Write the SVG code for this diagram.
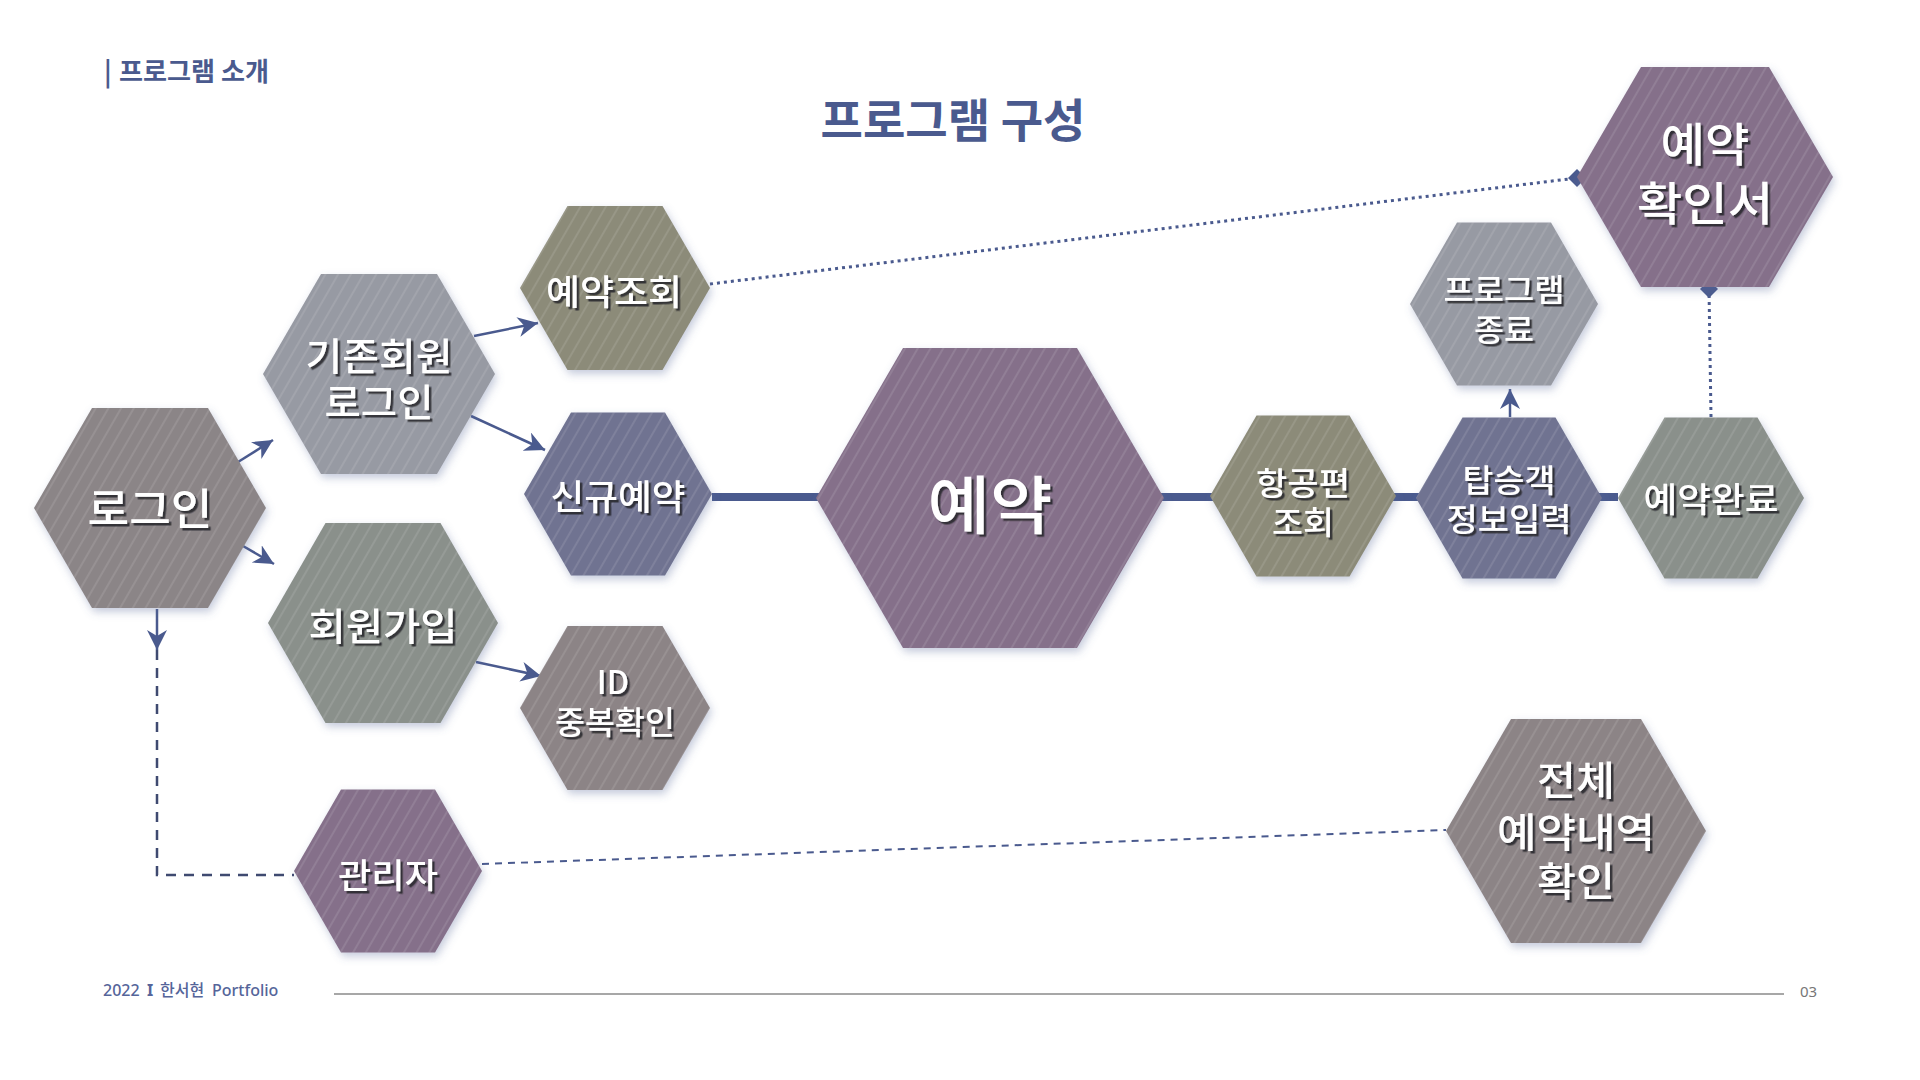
<svg xmlns="http://www.w3.org/2000/svg" width="1920" height="1080" viewBox="0 0 1920 1080">
<defs>
<style>
.hex{filter:url(#hexShadow);}
.str{fill:url(#stripes);}
.lbl{font-family:"Noto Sans CJK KR","Noto Sans",sans-serif;font-weight:500;fill:#ffffff;text-anchor:middle;dominant-baseline:central;filter:url(#txtShadow);}
.arrow{stroke:#4a5a8e;stroke-width:2.5;fill:none;marker-end:url(#arr);}
.dash{stroke:#3f4a70;stroke-width:2.5;fill:none;stroke-dasharray:10 8;}
.dash2{stroke:#4a5a8e;stroke-width:2;fill:none;stroke-dasharray:7 6;}
.dot{stroke:#4a5a8e;stroke-width:3;fill:none;stroke-dasharray:3 4;}
.foot{font-family:"Noto Sans","Noto Sans CJK KR",sans-serif;font-weight:500;font-size:16px;fill:#55659a;}
</style>
<pattern id="stripes" patternUnits="userSpaceOnUse" width="11" height="11" patternTransform="rotate(30)">
<line x1="1" y1="0" x2="1" y2="11" stroke="#ffffff" stroke-opacity="0.2" stroke-width="1"/>
</pattern>
<filter id="hexShadow" x="-20%" y="-20%" width="140%" height="140%">
<feDropShadow dx="2" dy="4" stdDeviation="4" flood-color="#5a6a9a" flood-opacity="0.35"/>
</filter>
<filter id="txtShadow" x="-20%" y="-20%" width="140%" height="140%">
<feDropShadow dx="2.5" dy="2.5" stdDeviation="0.6" flood-color="#26262c" flood-opacity="0.85"/>
</filter>
<marker id="arr" markerUnits="userSpaceOnUse" markerWidth="22" markerHeight="22" refX="20" refY="10" orient="auto">
<path d="M0,0 L20,10 L0,20 L6,10 z" fill="#4a5a8e"/>
</marker>
<marker id="dia" markerUnits="userSpaceOnUse" markerWidth="18" markerHeight="18" refX="9" refY="9" orient="0">
<path d="M0,9 L9,0 L18,9 L9,18 z" fill="#4a5a8e"/>
</marker>
</defs>
<rect x="0" y="0" width="1920" height="1080" fill="#ffffff"/>

<g id="header">
<text x="104" y="81" font-family="Noto Sans CJK KR, Noto Sans, sans-serif" font-weight="700" font-size="26" fill="#4a5a8e">|</text>
<text x="119" y="81" font-family="Noto Sans CJK KR, Noto Sans, sans-serif" font-weight="700" font-size="26" fill="#4a5a8e" textLength="150" lengthAdjust="spacingAndGlyphs">프로그램 소개</text>
<text x="953" y="137" font-family="Noto Sans CJK KR, Noto Sans, sans-serif" font-weight="700" font-size="46" fill="#4a5a8e" text-anchor="middle" textLength="265" lengthAdjust="spacingAndGlyphs">프로그램 구성</text>
</g>

<g id="connectors">
<line x1="712" y1="497" x2="1618" y2="497" stroke="#4a5a8e" stroke-width="8"/>
<line class="arrow" x1="238" y1="462" x2="273" y2="440"/>
<line class="arrow" x1="243" y1="546" x2="274" y2="564"/>
<line class="arrow" x1="474" y1="336" x2="538" y2="323"/>
<line class="arrow" x1="471" y1="416" x2="545" y2="450"/>
<line class="arrow" x1="476" y1="662" x2="541" y2="676"/>
<line class="arrow" x1="157" y1="609" x2="157" y2="650"/>
<line class="arrow" x1="1510" y1="417" x2="1510" y2="389"/>
<polyline class="dash" points="157,650 157,875 294,875"/>
<line class="dash2" x1="482" y1="864" x2="1446" y2="830"/>
<line class="dot" x1="710" y1="284" x2="1577" y2="178" marker-end="url(#dia)"/>
<line class="dot" x1="1711" y1="417" x2="1709" y2="289" marker-end="url(#dia)"/>
</g>

<g id="n-login">
<polygon class="hex" fill="#8b8587" points="34,508 92,408 208,408 266,508 208,608 92,608"/>
<polygon class="str" points="34,508 92,408 208,408 266,508 208,608 92,608"/>
<text class="lbl" x="150" y="506" font-size="43" textLength="125" lengthAdjust="spacingAndGlyphs">로그인</text>
</g>
<g id="n-member-login">
<polygon class="hex" fill="#979aa3" points="263,374 321,274 437,274 495,374 437,474 321,474"/>
<polygon class="str" points="263,374 321,274 437,274 495,374 437,474 321,474"/>
<text class="lbl" font-size="38"><tspan x="379" y="353" textLength="147" lengthAdjust="spacingAndGlyphs">기존회원</tspan><tspan x="379" y="399" textLength="109" lengthAdjust="spacingAndGlyphs">로그인</tspan></text>
</g>
<g id="n-signup">
<polygon class="hex" fill="#8a908b" points="268,623 325.5,523 440.5,523 498,623 440.5,723 325.5,723"/>
<polygon class="str" points="268,623 325.5,523 440.5,523 498,623 440.5,723 325.5,723"/>
<text class="lbl" x="383" y="623" font-size="38" textLength="149" lengthAdjust="spacingAndGlyphs">회원가입</text>
</g>
<g id="n-lookup">
<polygon class="hex" fill="#8c8b79" points="520,288 567.5,206 662.5,206 710,288 662.5,370 567.5,370"/>
<polygon class="str" points="520,288 567.5,206 662.5,206 710,288 662.5,370 567.5,370"/>
<text class="lbl" x="614" y="289" font-size="35" textLength="136" lengthAdjust="spacingAndGlyphs">예약조회</text>
</g>
<g id="n-new">
<polygon class="hex" fill="#6f7391" points="524,494 571,412.5 665,412.5 712,494 665,575.5 571,575.5"/>
<polygon class="str" points="524,494 571,412.5 665,412.5 712,494 665,575.5 571,575.5"/>
<text class="lbl" x="618" y="494" font-size="35" textLength="135" lengthAdjust="spacingAndGlyphs">신규예약</text>
</g>
<g id="n-idcheck">
<polygon class="hex" fill="#8c8486" points="520,708 567.5,626 662.5,626 710,708 662.5,790 567.5,790"/>
<polygon class="str" points="520,708 567.5,626 662.5,626 710,708 662.5,790 567.5,790"/>
<text class="lbl" font-size="32"><tspan x="613" y="680">ID</tspan><tspan x="615" y="720" textLength="120" lengthAdjust="spacingAndGlyphs">중복확인</tspan></text>
</g>
<g id="n-reserve">
<polygon class="hex" fill="#85708a" points="816,498 903,348 1077,348 1164,498 1077,648 903,648"/>
<polygon class="str" points="816,498 903,348 1077,348 1164,498 1077,648 903,648"/>
<text class="lbl" x="990" y="500" font-size="63" textLength="125" lengthAdjust="spacingAndGlyphs">예약</text>
</g>
<g id="n-flight">
<polygon class="hex" fill="#8c8b79" points="1210,496 1256.5,415.5 1349.5,415.5 1396,496 1349.5,576.5 1256.5,576.5"/>
<polygon class="str" points="1210,496 1256.5,415.5 1349.5,415.5 1396,496 1349.5,576.5 1256.5,576.5"/>
<text class="lbl" font-size="32"><tspan x="1303" y="481" textLength="94" lengthAdjust="spacingAndGlyphs">항공편</tspan><tspan x="1303" y="520" textLength="62" lengthAdjust="spacingAndGlyphs">조회</tspan></text>
</g>
<g id="n-passenger">
<polygon class="hex" fill="#6f7391" points="1416,498 1462.5,417.5 1555.5,417.5 1602,498 1555.5,578.5 1462.5,578.5"/>
<polygon class="str" points="1416,498 1462.5,417.5 1555.5,417.5 1602,498 1555.5,578.5 1462.5,578.5"/>
<text class="lbl" font-size="32"><tspan x="1509" y="478" textLength="93" lengthAdjust="spacingAndGlyphs">탑승객</tspan><tspan x="1509" y="517" textLength="125" lengthAdjust="spacingAndGlyphs">정보입력</tspan></text>
</g>
<g id="n-done">
<polygon class="hex" fill="#8a908b" points="1618,498 1664.5,417.5 1757.5,417.5 1804,498 1757.5,578.5 1664.5,578.5"/>
<polygon class="str" points="1618,498 1664.5,417.5 1757.5,417.5 1804,498 1757.5,578.5 1664.5,578.5"/>
<text class="lbl" x="1711" y="497" font-size="34" textLength="135" lengthAdjust="spacingAndGlyphs">예약완료</text>
</g>
<g id="n-exit">
<polygon class="hex" fill="#979aa3" points="1410,304 1457,222.5 1551,222.5 1598,304 1551,385.5 1457,385.5"/>
<polygon class="str" points="1410,304 1457,222.5 1551,222.5 1598,304 1551,385.5 1457,385.5"/>
<text class="lbl" font-size="31"><tspan x="1504" y="287" textLength="121" lengthAdjust="spacingAndGlyphs">프로그램</tspan><tspan x="1504" y="327" textLength="60" lengthAdjust="spacingAndGlyphs">종료</tspan></text>
</g>
<g id="n-confirm">
<polygon class="hex" fill="#85708a" points="1577,177 1641,67 1769,67 1833,177 1769,287 1641,287"/>
<polygon class="str" points="1577,177 1641,67 1769,67 1833,177 1769,287 1641,287"/>
<text class="lbl" font-size="46"><tspan x="1705" y="141" textLength="89" lengthAdjust="spacingAndGlyphs">예약</tspan><tspan x="1705" y="200" textLength="136" lengthAdjust="spacingAndGlyphs">확인서</tspan></text>
</g>
<g id="n-admin">
<polygon class="hex" fill="#85708a" points="294,871 341,789.5 435,789.5 482,871 435,952.5 341,952.5"/>
<polygon class="str" points="294,871 341,789.5 435,789.5 482,871 435,952.5 341,952.5"/>
<text class="lbl" x="388" y="873" font-size="34" textLength="100" lengthAdjust="spacingAndGlyphs">관리자</text>
</g>
<g id="n-all">
<polygon class="hex" fill="#8c8486" points="1446,831 1511,719 1641,719 1706,831 1641,943 1511,943"/>
<polygon class="str" points="1446,831 1511,719 1641,719 1706,831 1641,943 1511,943"/>
<text class="lbl" font-size="40"><tspan x="1576" y="778" textLength="78" lengthAdjust="spacingAndGlyphs">전체</tspan><tspan x="1576" y="830" textLength="158" lengthAdjust="spacingAndGlyphs">예약내역</tspan><tspan x="1576" y="879" textLength="78" lengthAdjust="spacingAndGlyphs">확인</tspan></text>
</g>

<g id="footer">
<text class="foot"><tspan x="103" y="996">2022</tspan><tspan x="147" y="996" font-weight="700">I</tspan><tspan x="160" y="996">한서현</tspan><tspan x="212" y="996">Portfolio</tspan></text>
<line x1="334" y1="994" x2="1784" y2="994" stroke="#8a8a8a" stroke-width="1.5"/>
<text x="1800" y="997" font-family="Noto Sans, sans-serif" font-size="15" fill="#777777">03</text>
</g>
</svg>
